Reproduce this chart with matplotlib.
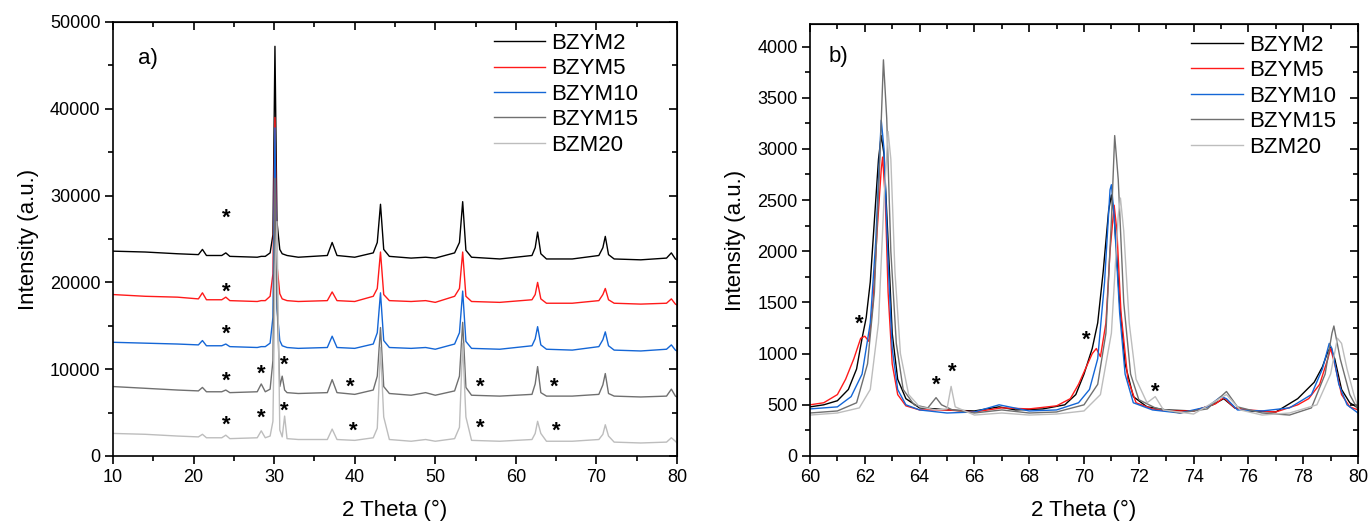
import matplotlib
matplotlib.use("Agg")
import matplotlib.pyplot as plt
from matplotlib.ticker import MultipleLocator

# ---------------- data: panel a (offset full patterns) ----------------
two_theta_a = [10, 14, 18, 20.6, 21.1, 21.6, 23.5, 24.0, 24.5, 27.9, 28.4, 28.9,
               29.5, 29.85, 30.1, 30.35, 30.7, 31.0, 31.3, 31.6, 33, 36.6, 37.2,
               37.8, 40, 42.3, 42.8, 43.2, 43.6, 44.3, 47, 48.8, 50, 52.4, 53.0,
               53.4, 53.8, 54.5, 58, 62.0, 62.4, 62.7, 63.1, 63.8, 67, 70.3, 70.8,
               71.1, 71.5, 72.2, 75.5, 78.7, 79.3, 79.8, 80]

a_bzym2 = [23600, 23500, 23300, 23200, 23800, 23100, 23100, 23400, 23000, 22900,
           23000, 23000, 23400, 25500, 47200, 27000, 23800, 23300, 23200, 23100,
           22900, 23100, 24600, 23100, 22900, 23400, 24600, 29000, 23800, 23000,
           22800, 22900, 22800, 23400, 24600, 29300, 23700, 22900, 22700, 23100,
           24000, 25800, 23300, 22700, 22700, 23100, 24000, 25300, 23200, 22700,
           22600, 22800, 23400, 22700, 22600]
a_bzym5 = [18600, 18400, 18300, 18100, 18800, 18000, 18000, 18300, 17900, 17800,
           17900, 17900, 18400, 21000, 39000, 22000, 18700, 18100, 18000, 17900,
           17800, 17900, 18900, 17900, 17800, 18400, 19300, 23500, 18600, 17900,
           17800, 17900, 17700, 18400, 19300, 23500, 18400, 17800, 17700, 18000,
           18600, 20000, 18100, 17600, 17600, 17900, 18600, 19300, 18000, 17600,
           17500, 17600, 18100, 17500, 17400]
a_bzym10 = [13100, 13000, 12900, 12800, 13300, 12700, 12700, 12900, 12600, 12500,
            12600, 12600, 13000, 16000, 37800, 17000, 13300, 12700, 12600, 12500,
            12400, 12500, 13800, 12500, 12400, 12900, 14200, 18800, 13300, 12500,
            12400, 12500, 12300, 12900, 14200, 19000, 13200, 12400, 12300, 12700,
            13500, 14900, 12800, 12300, 12200, 12600, 13400, 14300, 12700, 12200,
            12100, 12300, 12800, 12200, 12100]
a_bzym15 = [8000, 7800, 7600, 7500, 7900, 7400, 7400, 7600, 7300, 7400,
            8300, 7400, 7700, 11000, 32000, 18000, 8000, 9200, 7600, 7300,
            7200, 7300, 8800, 7300, 7100, 7600, 9200, 14800, 8000, 7200,
            7000, 7300, 7000, 7500, 9200, 15400, 7900, 7000, 6900, 7100,
            8300, 10300, 7300, 6900, 6900, 7100, 8200, 9500, 7200, 6900,
            6800, 6900, 7700, 6900, 6800]
a_bzm20 = [2600, 2500, 2300, 2200, 2500, 2100, 2100, 2400, 2000, 2100,
           2900, 2100, 2300, 4000, 20000, 27000, 3000, 2200, 4600, 2000,
           1900, 1900, 3100, 1900, 1800, 2100, 3200, 12500, 4500, 1900,
           1700, 1900, 1700, 2000, 3300, 13000, 4500, 1800, 1700, 1900,
           2600, 4000, 2600, 1700, 1700, 1900, 2500, 3600, 2300, 1600,
           1500, 1600, 2100, 1700, 1500]

stars_a_x = [24.0, 24.0, 24.0, 24.0, 28.4, 31.3, 39.5, 55.6, 64.8,
             24.0, 28.4, 31.3, 39.8, 55.6, 65.0]
stars_a_y = [27400, 18900, 14000, 8600, 9400, 10500, 7900, 7900, 7900,
             3600, 4300, 5200, 2800, 3200, 2900]

# ---------------- data: panel b (zoom 60-80 deg) ----------------
b_x_bzym2 = [60.0, 60.5, 61.0, 61.4, 61.7, 61.9, 62.05, 62.2, 62.35, 62.5, 62.6,
             62.7, 62.85, 63.0, 63.2, 63.5, 64.0, 64.6, 65.0, 66.0, 66.9, 67.5,
             68.5, 69.3, 69.7, 70.0, 70.3, 70.5, 70.7, 70.9, 71.0, 71.1, 71.3,
             71.5, 71.8, 72.3, 73.0, 74.0, 74.7, 75.1, 75.5, 76.0, 77.0, 77.8,
             78.1, 78.4, 78.7, 78.9, 79.0, 79.15, 79.4, 79.7, 80.0]
b_y_bzym2 = [480, 500, 540, 650, 850, 1150, 1350, 1700, 2300, 2900, 3130,
             2950, 2100, 1200, 750, 560, 470, 460, 450, 440, 480, 450,
             460, 500, 600, 800, 1050, 1300, 1800, 2400, 2550, 2350, 1500,
             900, 580, 480, 450, 440, 500, 560, 470, 440, 430, 560,
             640, 720, 870, 1020, 1060, 950, 650, 520, 470]

b_x_bzym5 = [60.0, 60.5, 61.0, 61.3, 61.6, 61.85, 62.0, 62.15, 62.3, 62.45, 62.6,
             62.65, 62.75, 62.85, 63.0, 63.2, 63.5, 64.0, 65.0, 66.0, 67.0, 68.0,
             69.0, 69.5, 69.8, 70.05, 70.3, 70.45, 70.6, 70.8, 70.95, 71.1, 71.2,
             71.35, 71.6, 71.9, 72.5, 73.0, 74.0, 74.8, 75.1, 75.5, 76.0, 77.0,
             77.8, 78.2, 78.6, 78.9, 79.0, 79.15, 79.4, 79.7, 80.0]
b_y_bzym5 = [500, 520, 600, 750, 950, 1150, 1170, 1120, 1500, 2200, 2800,
             2920, 2500, 1600, 900, 600, 490, 450, 450, 430, 470, 460,
             490, 560, 700, 850, 1000, 1050, 970, 1300, 2000, 2450, 2200,
             1400, 750, 520, 460, 440, 440, 510, 570, 470, 450, 430,
             500, 560, 700, 950, 1050, 900, 600, 480, 450]

b_x_bzym10 = [60.0, 61.0, 61.5, 61.9, 62.2, 62.4, 62.55, 62.6, 62.7, 62.85, 63.0,
              63.2, 63.5, 64.0, 65.0, 66.0, 66.9, 68.0, 69.0, 69.8, 70.2, 70.5,
              70.75, 70.95, 71.0, 71.1, 71.3, 71.5, 71.8, 72.5, 73.5, 74.5, 75.0,
              75.2, 75.6, 76.5, 77.5, 78.3, 78.7, 78.95, 79.05, 79.3, 79.6, 80.0]
b_y_bzym10 = [460, 480, 580, 800, 1300, 2100, 3000, 3280, 3000, 1900, 1050,
              650, 500, 450, 420, 430, 500, 440, 450, 520, 650, 950,
              1700, 2600, 2650, 2350, 1400, 800, 520, 450, 420, 480, 580,
              560, 450, 440, 470, 600, 850, 1100, 1050, 700, 500, 420]

b_x_bzym15 = [60.0, 61.0, 61.7, 62.1, 62.35, 62.55, 62.68, 62.8, 62.95, 63.15,
              63.4, 63.8, 64.3, 64.6, 64.8, 65.2, 66.0, 67.0, 68.0, 69.0, 70.0,
              70.5, 70.8, 71.0, 71.12, 71.25, 71.45, 71.7, 72.0, 72.6, 73.5, 74.5,
              75.2, 75.6, 76.5, 77.5, 78.3, 78.8, 79.05, 79.12, 79.35, 79.7, 80.0]
b_y_bzym15 = [420, 440, 520, 900, 1600, 2900, 3870, 3300, 2000, 1100,
              650, 500, 470, 570, 500, 450, 420, 450, 420, 430, 500,
              700, 1200, 2300, 3130, 2700, 1500, 800, 550, 470, 420, 460,
              630, 480, 420, 400, 470, 800, 1200, 1270, 950, 600, 450]

b_x_bzm20 = [60.0, 61.0, 61.8, 62.2, 62.5, 62.7, 62.85, 62.95, 63.1, 63.3, 63.6,
             64.0, 64.6, 65.0, 65.15, 65.3, 66.0, 67.0, 68.0, 69.0, 70.0, 70.6,
             71.0, 71.25, 71.33, 71.45, 71.65, 71.9, 72.3, 72.6, 72.9, 74.0, 75.2,
             75.7, 76.5, 77.5, 78.5, 79.0, 79.25, 79.4, 79.6, 79.85, 80.0]
b_y_bzm20 = [400, 420, 470, 650, 1300, 2500, 3170, 2900, 1800, 1000, 600,
             480, 450, 460, 680, 480, 400, 420, 400, 410, 440, 600,
             1200, 2350, 2520, 2200, 1300, 750, 520, 580, 450, 410, 600,
             450, 400, 420, 500, 800, 1150, 1100, 850, 600, 480]

stars_b_x = [61.8, 64.6, 65.2, 70.1, 72.6]
stars_b_y = [1290, 690, 820, 1130, 620]

labels = ["BZYM2", "BZYM5", "BZYM10", "BZYM15", "BZM20"]
colors = ["#000000", "#ff1a1a", "#1466d6", "#707070", "#bdbdbd"]

TICK_FONT = ["Liberation Sans", "DejaVu Sans"]
plt.rcParams["font.family"] = ["Liberation Sans", "DejaVu Sans"]

fig = plt.figure(figsize=(13.72, 5.28), dpi=100)
W, H = 1372.0, 528.0
ax1 = fig.add_axes([113 / W, (H - 456) / H, 564 / W, 434 / H])
ax2 = fig.add_axes([810 / W, (H - 456) / H, 548 / W, 432 / H])


def style_axes(ax, xmaj, xmin, ymaj, ymin):
    ax.xaxis.set_major_locator(MultipleLocator(xmaj))
    ax.xaxis.set_minor_locator(MultipleLocator(xmin))
    ax.yaxis.set_major_locator(MultipleLocator(ymaj))
    ax.yaxis.set_minor_locator(MultipleLocator(ymin))
    ax.tick_params(which="major", direction="out", length=6, width=1.2,
                   labelsize=13, pad=3)
    ax.tick_params(which="minor", direction="out", length=3.5, width=1.2)
    for s in ax.spines.values():
        s.set_linewidth(1.2)
    for lab in ax.get_xticklabels() + ax.get_yticklabels():
        lab.set_family(TICK_FONT)
    top = ax.secondary_xaxis("top")
    top.xaxis.set_major_locator(MultipleLocator(xmaj))
    top.xaxis.set_minor_locator(MultipleLocator(xmin))
    top.tick_params(which="major", direction="in", length=6, width=1.2,
                    labeltop=False)
    top.tick_params(which="minor", direction="in", length=3.5, width=1.2)
    right = ax.secondary_yaxis("right")
    right.yaxis.set_major_locator(MultipleLocator(ymaj))
    right.yaxis.set_minor_locator(MultipleLocator(ymin))
    right.tick_params(which="major", direction="in", length=6, width=1.2,
                      labelright=False)
    right.tick_params(which="minor", direction="in", length=3.5, width=1.2)
    ax.set_xlabel("2 Theta (°)", fontsize=16, labelpad=10)
    ax.set_ylabel("Intensity (a.u.)", fontsize=16, labelpad=8)


# panel a
series_a = [a_bzym2, a_bzym5, a_bzym10, a_bzym15, a_bzm20]
for ys, lab, c in zip(series_a, labels, colors):
    ax1.plot(two_theta_a, ys, color=c, lw=1.0, label=lab)
for sx, sy in zip(stars_a_x, stars_a_y):
    ax1.text(sx, sy, "*", ha="center", va="center", fontsize=16,
             fontweight="bold", color="black")
ax1.set_xlim(10, 80)
ax1.set_ylim(0, 50000)
style_axes(ax1, 10, 5, 10000, 5000)
ax1.text(0.044, 0.917, "a)", transform=ax1.transAxes, fontsize=16,
         ha="left", va="center")
ax1.legend(loc="upper left", bbox_to_anchor=(0.675, 0.975), frameon=False,
           fontsize=16, handlelength=2.3, handletextpad=0.3, labelspacing=0.2,
           borderpad=0, borderaxespad=0)

# panel b
series_b = [(b_x_bzym2, b_y_bzym2), (b_x_bzym5, b_y_bzym5),
            (b_x_bzym10, b_y_bzym10), (b_x_bzym15, b_y_bzym15),
            (b_x_bzm20, b_y_bzm20)]
for (xs, ys), lab, c in zip(series_b, labels, colors):
    ax2.plot(xs, ys, color=c, lw=1.0, label=lab)
for sx, sy in zip(stars_b_x, stars_b_y):
    ax2.text(sx, sy, "*", ha="center", va="center", fontsize=16,
             fontweight="bold", color="black")
ax2.set_xlim(60, 80)
ax2.set_ylim(0, 4220)
style_axes(ax2, 2, 1, 500, 250)
ax2.text(0.033, 0.924, "b)", transform=ax2.transAxes, fontsize=16,
         ha="left", va="center")
ax2.legend(loc="upper left", bbox_to_anchor=(0.696, 0.975), frameon=False,
           fontsize=16, handlelength=2.3, handletextpad=0.3, labelspacing=0.2,
           borderpad=0, borderaxespad=0)

fig.savefig("out.png", dpi=100)
